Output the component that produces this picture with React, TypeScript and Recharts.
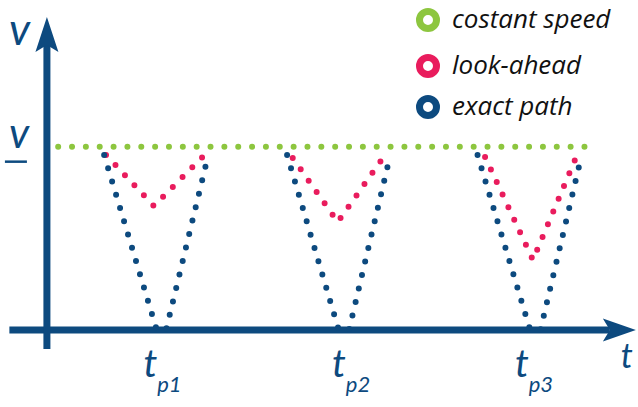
import { ComposedChart, Line, XAxis, YAxis, Legend, ReferenceDot } from 'recharts'

// speed profile sketch: v over t, three passages through a corner

const T_PEAKS = [1.22, 3.23, 5.18]
const PEAK_SUBS = ['p1', 'p2', 'p3']
const V_BAR = 1

const SERIES_NAMES = ['costant speed', 'look-ahead', 'exact path']

const CONST_T = [0.12, 5.87]
const CONST_V = [1, 1]

// one list per passage
const LOOK_T = [
  [0.63, 1.14, 1.68],
  [2.62, 3.1, 3.58],
  [4.67, 5.18, 5.65],
]
const LOOK_V = [
  [0.955, 0.676, 0.955],
  [0.938, 0.589, 0.938],
  [0.944, 0.382, 0.955],
]

const EXACT_T = [
  [0.61, 1.17, 1.27, 1.72],
  [2.56, 3.11, 3.22, 3.66],
  [4.59, 5.15, 5.26, 5.7],
]
const EXACT_V = [
  [0.955, 0, 0, 0.955],
  [0.955, 0, 0, 0.955],
  [0.955, 0, 0, 0.955],
]

const X_AXIS_T = [-0.4, 6.0]
const Y_AXIS_V = [-0.104, 1.555]

const AXIS_COLOR = '#0d4a7f'
const GREEN = '#8dc63f'
const PINK = '#e91c5d'
const FONT = "Lato, 'Open Sans', sans-serif"
const LEGEND_FONT = "'Open Sans', Lato, sans-serif"
const DOTTED = '0 13.85'

type Pt = { t: number; v: number | null }

const joinSegments = (ts: number[][], vs: number[][]): Pt[] => {
  const out: Pt[] = []
  ts.forEach((seg, i) => {
    if (i > 0) out.push({ t: (ts[i - 1][ts[i - 1].length - 1] + seg[0]) / 2, v: null })
    seg.forEach((t, j) => out.push({ t, v: vs[i][j] }))
  })
  return out
}

const constData: Pt[] = CONST_T.map((t, i) => ({ t, v: CONST_V[i] }))
const lookData = joinSegments(LOOK_T, LOOK_V)
const exactData = joinSegments(EXACT_T, EXACT_V)
const xAxisData: Pt[] = X_AXIS_T.map((t) => ({ t, v: 0 }))
const yAxisData: Pt[] = Y_AXIS_V.map((v) => ({ t: 0, v }))

const arrowDot = (dir: 'up' | 'right') => (props: any) => {
  const { cx, cy, index } = props
  if (index !== 1) return <g key={`${dir}-${index}`} />
  const pts =
    dir === 'right'
      ? [[cx + 26, cy], [cx - 7, cy - 11.5], [cx, cy], [cx - 7, cy + 11.5]]
      : [[cx, cy - 28], [cx + 11.5, cy + 7], [cx, cy], [cx - 11.5, cy + 7]]
  return <polygon key={`${dir}-${index}`} points={pts.map((p) => p.join(',')).join(' ')} fill={AXIS_COLOR} />
}

const LEGEND_ROWS = [20, 66, 107]

const renderLegend = ({ payload }: any) => {
  const items = SERIES_NAMES.map((name) => (payload || []).find((e: any) => e.value === name)).filter(Boolean)
  return (
    <svg width={228} height={130} style={{ display: 'block' }}>
      {items.map((entry: any, i: number) => (
        <g key={entry.value}>
          <circle cx={18} cy={LEGEND_ROWS[i]} r={8.5} fill="none" stroke={entry.color} strokeWidth={7} />
          <text x={42} y={LEGEND_ROWS[i] + 8} fontFamily={LEGEND_FONT} fontStyle="italic" fontSize={26} fill="#111">
            {entry.value}
          </text>
        </g>
      ))}
    </svg>
  )
}

const peakLabel = (sub: string) => (p: any) => {
  const { x, y } = p.viewBox
  return (
    <text x={x - 18} y={y + 47} fill={AXIS_COLOR} fontFamily={FONT} fontStyle="italic">
      <tspan fontSize={39}>t</tspan>
      <tspan fontSize={22} dy={15}>{sub}</tspan>
    </text>
  )
}

const vTopLabel = (p: any) => {
  const { x, y } = p.viewBox
  return (
    <text x={x - 38} y={y} fill={AXIS_COLOR} fontFamily={FONT} fontStyle="italic" fontSize={44}>
      v
    </text>
  )
}

const vBarLabel = (p: any) => {
  const { x, y } = p.viewBox
  return (
    <g>
      <text x={x - 38} y={y + 1} fill={AXIS_COLOR} fontFamily={FONT} fontStyle="italic" fontSize={42}>
        v
      </text>
      <line x1={x - 42} x2={x - 20} y1={y + 15} y2={y + 15} stroke={AXIS_COLOR} strokeWidth={2.5} />
    </g>
  )
}

const tAxisLabel = (p: any) => {
  const { x, y } = p.viewBox
  return (
    <text x={x + 11} y={y + 38} fill={AXIS_COLOR} fontFamily={FONT} fontStyle="italic" fontSize={34}>
      t
    </text>
  )
}

export default function App() {
  return (
    <div style={{ position: 'absolute', left: 0, top: 0, background: '#fff' }}>
      <ComposedChart width={638} height={407} margin={{ top: 0, right: 0, bottom: 0, left: 0 }}>
        <XAxis type="number" dataKey="t" domain={[-0.5, 6.3]} hide allowDataOverflow />
        <YAxis type="number" dataKey="v" domain={[-0.42, 1.8]} hide allowDataOverflow />
        <Legend
          layout="vertical"
          align="center"
          verticalAlign="middle"
          content={renderLegend}
          wrapperStyle={{ left: 410, top: 0, width: 228, height: 130 }}
        />
        <Line
          data={xAxisData}
          dataKey="v"
          stroke={AXIS_COLOR}
          strokeWidth={7}
          dot={arrowDot('right')}
          activeDot={false}
          legendType="none"
          isAnimationActive={false}
        />
        <Line
          data={yAxisData}
          dataKey="v"
          stroke={AXIS_COLOR}
          strokeWidth={7}
          dot={arrowDot('up')}
          activeDot={false}
          legendType="none"
          isAnimationActive={false}
        />
        <Line
          name={SERIES_NAMES[0]}
          data={constData}
          dataKey="v"
          type="linear"
          stroke={GREEN}
          strokeWidth={6}
          strokeDasharray={DOTTED}
          strokeLinecap="round"
          dot={false}
          activeDot={false}
          isAnimationActive={false}
        />
        <Line
          name={SERIES_NAMES[1]}
          data={lookData}
          dataKey="v"
          type="linear"
          stroke={PINK}
          strokeWidth={6}
          strokeDasharray={DOTTED}
          strokeLinecap="round"
          dot={false}
          activeDot={false}
          isAnimationActive={false}
        />
        <Line
          name={SERIES_NAMES[2]}
          data={exactData}
          dataKey="v"
          type="linear"
          stroke={AXIS_COLOR}
          strokeWidth={6}
          strokeDasharray={DOTTED}
          strokeLinecap="round"
          dot={false}
          activeDot={false}
          isAnimationActive={false}
        />
        <ReferenceDot x={0} y={Y_AXIS_V[1]} r={0} fill="none" stroke="none" label={vTopLabel} />
        <ReferenceDot x={0} y={V_BAR} r={0} fill="none" stroke="none" label={vBarLabel} />
        <ReferenceDot x={X_AXIS_T[1]} y={0} r={0} fill="none" stroke="none" label={tAxisLabel} />
        {T_PEAKS.map((tp, i) => (
          <ReferenceDot key={PEAK_SUBS[i]} x={tp} y={0} r={0} fill="none" stroke="none" label={peakLabel(PEAK_SUBS[i])} />
        ))}
      </ComposedChart>
    </div>
  )
}
